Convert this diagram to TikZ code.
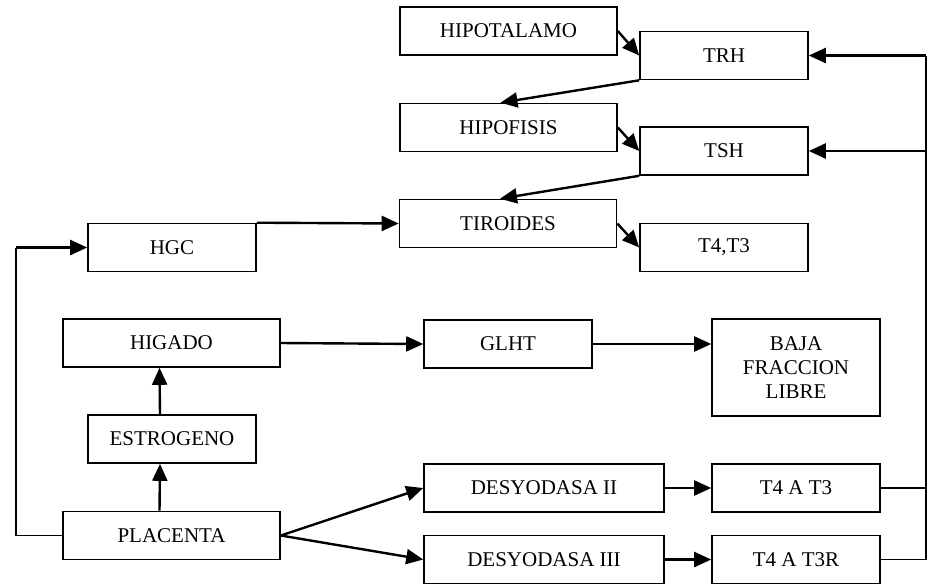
\documentclass[tikz,border=0pt]{standalone}
\usepackage{fontspec}
\setmainfont{Liberation Serif}
\usetikzlibrary{arrows.meta}

\begin{document}
\begin{tikzpicture}[x=1pt,y=-1pt,
        arr/.style={-{Triangle[length=17pt,width=15pt]},line width=2.4pt},
        rail/.style={line width=1.1pt},
        box/.style={draw,line width=1.6pt,inner sep=0pt,minimum height=48pt,
                    font=\fontsize{21}{24}\selectfont,align=center},
        wide box/.style={box,minimum width=217pt},
        mid box/.style={box,minimum width=168pt},
        long box/.style={box,minimum width=240pt}]

        \useasboundingbox (0,0) rectangle (928,584);

        % eje hipotalamo - hipofisis - tiroides
        \node[wide box] (hipotalamo) at (508.5,31) {HIPOTALAMO};
        \node[mid box] (trh) at (724,55.5) {TRH};
        \node[wide box] (hipofisis) at (508.5,127.5) {HIPOFISIS};
        \node[mid box] (tsh) at (724,151) {TSH};
        \node[wide box] (tiroides) at (508,223.5) {TIROIDES};
        \node[mid box] (t4t3) at (724,247.5) {T4,T3};
        \node[mid box] (hgc) at (172,247.5) {HGC};

        % placenta
        \node[wide box] (higado) at (171.5,343) {HIGADO};
        \node[mid box] (glht) at (508,344) {GLHT};
        \node[mid box,minimum height=97pt] (baja) at (796,367.5) {BAJA\\FRACCION\\LIBRE};
        \node[mid box] (estrogeno) at (172,439) {ESTROGENO};
        \node[wide box] (placenta) at (171.5,535.5) {PLACENTA};
        \node[long box] (desII) at (544,488) {DESYODASA II};
        \node[mid box] (t4at3) at (796,488) {T4 A T3};
        \node[long box] (desIII) at (544,559.5) {DESYODASA III};
        \node[mid box] (t4at3r) at (796,559.5) {T4 A T3R};

        \coordinate (right rail) at (926,0);
        \coordinate (left rail) at (16,0);

        \path[arr]
            (hipotalamo.east) edge (trh.west)
            (trh.south west) edge ([xshift=-8pt]hipofisis.north)
            (hipofisis.east) edge (tsh.west)
            (tsh.south west) edge ([xshift=-8pt]tiroides.north)
            (tiroides.east) edge (t4t3.west)
            (hgc.north east) edge (tiroides.west)
            (higado.east) edge (glht.west)
            (glht.east) edge (glht.east -| baja.west)
            ([xshift=-12pt]placenta.north) edge ([xshift=-12pt]estrogeno.south)
            ([xshift=-12pt]estrogeno.north) edge ([xshift=-12pt]higado.south)
            (placenta.east) edge (desII.west)
            (placenta.east) edge (desIII.west)
            (desII.east) edge (t4at3.west)
            (desIII.east) edge (t4at3r.west);

        % retroalimentacion
        \draw[rail] (t4at3r.east) -- (t4at3r.east -| right rail) -- (trh.east -| right rail);
        \draw[rail] (t4at3.east) -- (t4at3.east -| right rail);
        \draw[arr] (trh.east -| right rail) -- (trh.east);
        \draw[arr] (tsh.east -| right rail) -- (tsh.east);

        \draw[rail] (placenta.west) -- (placenta.west -| left rail) -- (hgc.west -| left rail);
        \draw[arr] (hgc.west -| left rail) -- (hgc.west);

\end{tikzpicture}
\end{document}
